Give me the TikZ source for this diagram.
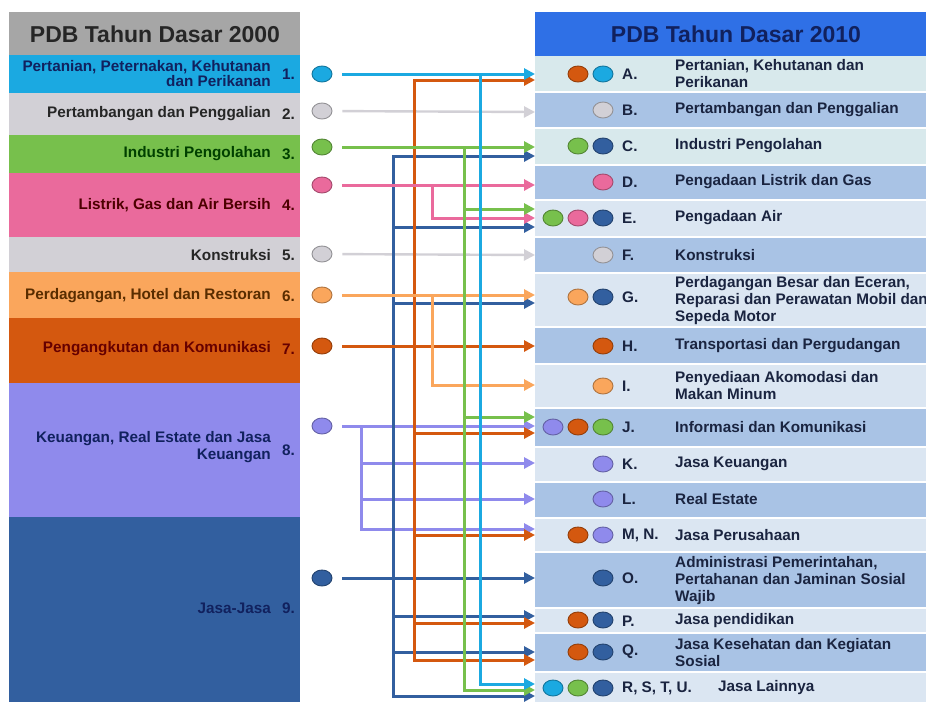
\documentclass[tikz,border=0pt]{standalone}
\usepackage{fontspec}
\setmainfont{Liberation Sans}
\usetikzlibrary{arrows.meta,shapes.geometric}
\definecolor{cHdL}{HTML}{A6A6A6}
\definecolor{cHdR}{HTML}{2F70E6}
\definecolor{cCy}{HTML}{1BA9E1}
\definecolor{cGy}{HTML}{D2D0D6}
\definecolor{cGr}{HTML}{77C04C}
\definecolor{cPk}{HTML}{EA6A9C}
\definecolor{cLo}{HTML}{FAA65C}
\definecolor{cDo}{HTML}{D4580F}
\definecolor{cLv}{HTML}{8F8AEC}
\definecolor{cDb}{HTML}{325F9F}
\definecolor{cPale}{HTML}{DBE6F2}
\definecolor{cPaleG}{HTML}{D8E9EC}
\definecolor{cBlu}{HTML}{A9C3E5}
\definecolor{cTxt}{HTML}{1A2440}
\definecolor{cNavy}{HTML}{11215E}
\tikzset{
  lt/.style={font=\fontsize{15.3}{15}\selectfont\bfseries, anchor=east, align=right, inner sep=0pt},
  num/.style={font=\fontsize{15.3}{15}\selectfont\bfseries, anchor=west, inner sep=0pt},
  rl/.style={font=\fontsize{15.3}{17}\selectfont\bfseries, anchor=west, inner sep=0pt, text=cTxt},
  rt/.style={font=\fontsize{15.3}{17}\selectfont\bfseries, anchor=west, align=left, inner sep=0pt, text=cTxt},
  dot/.style={ellipse, minimum width=20pt, minimum height=16pt, inner sep=0pt, fill=#1, draw=#1!70!black, line width=0.9pt},
  conn/.style={line width=3pt, draw=#1, -{Triangle[length=11pt,width=11pt]}},
  hdr/.style={font=\fontsize{23}{26}\selectfont\bfseries, inner sep=0pt}
}
\begin{document}
\begin{tikzpicture}[x=1pt,y=-1pt]
\useasboundingbox (0,0) rectangle (926,702);
\fill[white] (0,0) rectangle (926,702);
% ---------- left column ----------
\fill[cHdL] (9,12) rectangle (300,55);
\fill[cCy] (9,55) rectangle (300,93);
\fill[cGy] (9,93) rectangle (300,135);
\fill[cGr] (9,135) rectangle (300,173);
\fill[cPk] (9,173) rectangle (300,237);
\fill[cGy] (9,237) rectangle (300,272);
\fill[cLo] (9,272) rectangle (300,318);
\fill[cDo] (9,318) rectangle (300,383);
\fill[cLv] (9,383) rectangle (300,517);
\fill[cDb] (9,517) rectangle (300,702);
\node[hdr, text=black!85] (hL) at (155,34) {PDB Tahun Dasar 2000};
\node[lt, text=cNavy] (lt1) at (271,74) {Pertanian, Peternakan, Kehutanan\\dan Perikanan};
\node[num, text=cNavy] (n1) at (282,74) {1.};
\node[lt, text=black!85] (lt2) at (271,114) {Pertambangan dan Penggalian};
\node[num, text=black!85] (n2) at (282,114) {2.};
\node[lt, text=black!75!green] (lt3) at (271,154) {Industri Pengolahan};
\node[num, text=black!75!green] (n3) at (282,154) {3.};
\node[lt, text=black!70!red] (lt4) at (271,205) {Listrik, Gas dan Air Bersih};
\node[num, text=black!70!red] (n4) at (282,205) {4.};
\node[lt, text=black!85] (lt5) at (271,255) {Konstruksi};
\node[num, text=black!85] (n5) at (282,255) {5.};
\node[lt, text=black!65!orange] (lt6) at (271,296) {Perdagangan, Hotel dan Restoran};
\node[num, text=black!65!orange] (n6) at (282,296) {6.};
\node[lt, text=black!60!red] (lt7) at (271,349) {Pengangkutan dan Komunikasi};
\node[num, text=black!60!red] (n7) at (282,349) {7.};
\node[lt, text=cNavy, font=\fontsize{15.3}{17}\selectfont\bfseries] (lt8) at (271,447) {Keuangan, Real Estate dan Jasa\\Keuangan};
\node[num, text=cNavy] (n8) at (282,450) {8.};
\node[lt, text=cNavy] (lt9) at (271,608) {Jasa-Jasa};
\node[num, text=cNavy] (n9) at (282,608) {9.};
% ---------- right column ----------
\fill[cHdR] (535,12) rectangle (926,56);
\fill[cPaleG] (535,56) rectangle (926,92);
\fill[cBlu] (535,92) rectangle (926,128);
\fill[cPaleG] (535,128) rectangle (926,165);
\fill[cBlu] (535,165) rectangle (926,200);
\fill[cPale] (535,200) rectangle (926,237);
\fill[cBlu] (535,237) rectangle (926,273);
\fill[cPale] (535,273) rectangle (926,327);
\fill[cBlu] (535,327) rectangle (926,364);
\fill[cPale] (535,364) rectangle (926,408);
\fill[cBlu] (535,408) rectangle (926,447);
\fill[cPale] (535,447) rectangle (926,482);
\fill[cBlu] (535,482) rectangle (926,518);
\fill[cPale] (535,518) rectangle (926,552);
\fill[cBlu] (535,552) rectangle (926,608);
\fill[cPale] (535,608) rectangle (926,633);
\fill[cBlu] (535,633) rectangle (926,672);
\fill[cPale] (535,672) rectangle (926,702);
\foreach \yy in {92,128,165,200,237,273,327,364,408,447,482,518,552,608,633,672}
  \draw[white, line width=1.5pt] (535,\yy) -- (926,\yy);
\node[hdr, text=cNavy] (hR) at (736,34) {PDB Tahun Dasar 2010};
% labels and texts
\node[rl] (lA) at (622,74) {A.};   \node[rt] (dA) at (675,74) {Pertanian, Kehutanan dan\\Perikanan};
\node[rl] (lB) at (622,110) {B.};  \node[rt] (dB) at (675,110) {Pertambangan dan Penggalian};
\node[rl] (lC) at (622,146) {C.};  \node[rt] (dC) at (675,146) {Industri Pengolahan};
\node[rl] (lD) at (622,182) {D.};  \node[rt] (dD) at (675,182) {Pengadaan Listrik dan Gas};
\node[rl] (lE) at (622,218) {E.};  \node[rt] (dE) at (675,218) {Pengadaan Air};
\node[rl] (lF) at (622,255) {F.};  \node[rt] (dF) at (675,255) {Konstruksi};
\node[rl] (lG) at (622,297) {G.};  \node[rt] (dG) at (675,301) {Perdagangan Besar dan Eceran,\\Reparasi dan Perawatan Mobil dan\\Sepeda Motor};
\node[rl] (lH) at (622,346) {H.};  \node[rt] (dH) at (675,346) {Transportasi dan Pergudangan};
\node[rl] (lI) at (622,386) {I.};   \node[rt] (dI) at (675,386) {Penyediaan Akomodasi dan\\Makan Minum};
\node[rl] (lJ) at (622,427) {J.};  \node[rt] (dJ) at (675,427) {Informasi dan Komunikasi};
\node[rl] (lK) at (622,464) {K.};  \node[rt] (dK) at (675,464) {Jasa Keuangan};
\node[rl] (lL) at (622,499) {L.};  \node[rt] (dL) at (675,499) {Real Estate};
\node[rl] (lM) at (622,535) {M, N.}; \node[rt] (dM) at (675,535) {Jasa Perusahaan};
\node[rl] (lO) at (622,578) {O.};  \node[rt] (dO) at (675,581) {Administrasi Pemerintahan,\\Pertahanan dan Jaminan Sosial\\Wajib};
\node[rl] (lP) at (622,621) {P.};  \node[rt] (dP) at (675,621) {Jasa pendidikan};
\node[rl] (lQ) at (622,652) {Q.};  \node[rt] (dQ) at (675,653) {Jasa Kesehatan dan Kegiatan\\Sosial};
\node[rl] (lR) at (622,688) {R, S, T, U.}; \node[rt] (dR) at (718,688) {Jasa Lainnya};
% right dots
\node[dot=cDo] (rA1) at (578,74) {}; \node[dot=cCy] (rA2) at (603,74) {};
\node[dot=cGy] (rB1) at (603,110) {};
\node[dot=cGr] (rC1) at (578,146) {}; \node[dot=cDb] (rC2) at (603,146) {};
\node[dot=cPk] (rD1) at (603,182) {};
\node[dot=cGr] (rE1) at (553,218) {}; \node[dot=cPk] (rE2) at (578,218) {}; \node[dot=cDb] (rE3) at (603,218) {};
\node[dot=cGy] (rF1) at (603,255) {};
\node[dot=cLo] (rG1) at (578,297) {}; \node[dot=cDb] (rG2) at (603,297) {};
\node[dot=cDo] (rH1) at (603,346) {};
\node[dot=cLo] (rI1) at (603,386) {};
\node[dot=cLv] (rJ1) at (553,427) {}; \node[dot=cDo] (rJ2) at (578,427) {}; \node[dot=cGr] (rJ3) at (603,427) {};
\node[dot=cLv] (rK1) at (603,464) {};
\node[dot=cLv] (rL1) at (603,499) {};
\node[dot=cDo] (rM1) at (578,535) {}; \node[dot=cLv] (rM2) at (603,535) {};
\node[dot=cDb] (rO1) at (603,578) {};
\node[dot=cDo] (rP1) at (578,620) {}; \node[dot=cDb] (rP2) at (603,620) {};
\node[dot=cDo] (rQ1) at (578,652) {}; \node[dot=cDb] (rQ2) at (603,652) {};
\node[dot=cCy] (rR1) at (553,688) {}; \node[dot=cGr] (rR2) at (578,688) {}; \node[dot=cDb] (rR3) at (603,688) {};
% ---------- left dots (sources) ----------
\node[dot=cCy] (s1) at (322,74) {};
\node[dot=cGy] (s2) at (322,111) {};
\node[dot=cGr] (s3) at (322,147) {};
\node[dot=cPk] (s4) at (322,185) {};
\node[dot=cGy] (s5) at (322,254) {};
\node[dot=cLo] (s6) at (322,295) {};
\node[dot=cDo] (s7) at (322,346) {};
\node[dot=cLv] (s8) at (322,426) {};
\node[dot=cDb] (s9) at (322,578) {};
% ---------- arrow end points ----------
\coordinate (tA1) at (535,74);  \coordinate (tA2) at (535,80);
\coordinate (tB1) at (535,112);
\coordinate (tC1) at (535,147); \coordinate (tC2) at (535,156);
\coordinate (tD1) at (535,185);
\coordinate (tE1) at (535,209); \coordinate (tE2) at (535,218); \coordinate (tE3) at (535,227);
\coordinate (tF1) at (535,255);
\coordinate (tG1) at (535,295); \coordinate (tG2) at (535,303);
\coordinate (tH1) at (535,346);
\coordinate (tI1) at (535,385);
\coordinate (tJ1) at (535,417); \coordinate (tJ2) at (535,426); \coordinate (tJ3) at (535,433);
\coordinate (tK1) at (535,463);
\coordinate (tL1) at (535,499);
\coordinate (tM1) at (535,529); \coordinate (tM2) at (535,535);
\coordinate (tO1) at (535,578);
\coordinate (tP1) at (535,616); \coordinate (tP2) at (535,623);
\coordinate (tQ1) at (535,652); \coordinate (tQ2) at (535,660);
\coordinate (tR1) at (535,684); \coordinate (tR2) at (535,690); \coordinate (tR3) at (535,696);
% branch points
\coordinate (vCy) at (480,74);
\coordinate (vGr) at (464,147);
\coordinate (vPk) at (432,185);
\coordinate (vLo) at (432,295);
\coordinate (vDo) at (414,346);
\coordinate (vLv) at (361,426);
\coordinate (vDb) at (393,578);
% ---------- connectors ----------
\draw[conn=cGy, line width=2.4pt, shorten <=10pt] (s2) -- (tB1);
\draw[conn=cGy, line width=2.4pt, shorten <=10pt] (s5) -- (tF1);
\draw[conn=cLv] (vLv) |- (tK1);
\draw[conn=cLv] (vLv) |- (tL1);
\draw[conn=cLv] (vLv) |- (tM1);
\draw[conn=cLv, shorten <=10pt] (s8) -- (tJ2);
\draw[conn=cDb] (vDb) |- (tC2);
\draw[conn=cDb] (vDb) |- (tE3);
\draw[conn=cDb] (vDb) |- (tG2);
\draw[conn=cDb] (vDb) |- (tP1);
\draw[conn=cDb] (vDb) |- (tQ1);
\draw[conn=cDb] (vDb) |- (tR3);
\draw[conn=cDb, shorten <=10pt] (s9) -- (tO1);
\draw[conn=cDo] (vDo) |- (tA2);
\draw[conn=cDo] (vDo) |- (tJ3);
\draw[conn=cDo] (vDo) |- (tM2);
\draw[conn=cDo] (vDo) |- (tP2);
\draw[conn=cDo] (vDo) |- (tQ2);
\draw[conn=cDo, shorten <=10pt] (s7) -- (tH1);
\draw[conn=cPk] (vPk) |- (tE2);
\draw[conn=cPk, shorten <=10pt] (s4) -- (tD1);
\draw[conn=cLo] (vLo) |- (tI1);
\draw[conn=cLo, shorten <=10pt] (s6) -- (tG1);
\draw[conn=cGr] (vGr) |- (tE1);
\draw[conn=cGr] (vGr) |- (tJ1);
\draw[conn=cGr] (vGr) |- (tR2);
\draw[conn=cGr, shorten <=10pt] (s3) -- (tC1);
\draw[conn=cCy] (vCy) |- (tR1);
\draw[conn=cCy, shorten <=10pt] (s1) -- (tA1);
\end{tikzpicture}
\end{document}
